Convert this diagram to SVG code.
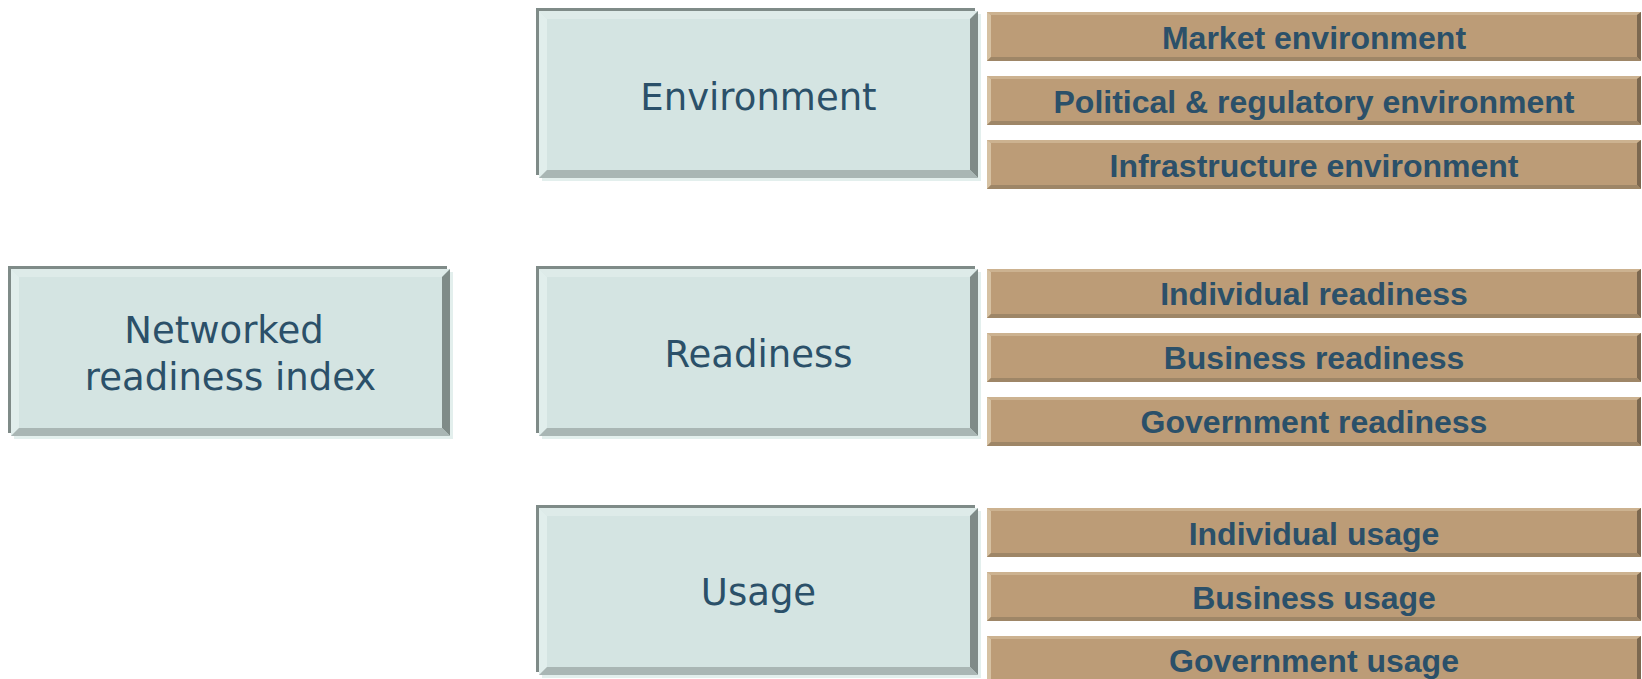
<svg xmlns="http://www.w3.org/2000/svg" xmlns:xlink="http://www.w3.org/1999/xlink" width="1642" height="679" viewBox="0 0 1642 679">
<style>
.box-main{fill:#d4e4e2}
.box-dark{fill:#7f8b88}
.box-shadow{fill:#e3efed}
.box-top{fill:#deebe9}
.box-left{fill:#e1eeec}
.box-right{fill:#7f8b88}
.box-bottom{fill:#a9b6b4}
.bar-main{fill:#bc9c77}
.bar-top{fill:#ccb290}
.bar-left{fill:#d6c1a2}
.bar-right{fill:#7c6850}
.bar-bottom{fill:#9e8667}
.box-text{font-family:"DejaVu Sans",Verdana,sans-serif;font-size:37px;fill:#2b5069;text-anchor:middle}
.bar-text{font-family:"Liberation Sans",Arial,sans-serif;font-weight:bold;font-size:32px;fill:#2b5069;text-anchor:middle}
</style>
<defs>
<g id="box">
<rect class="box-shadow" x="3" y="3" width="439" height="167"/>
<rect class="box-dark" x="-3" y="-3" width="439" height="167"/>
<rect class="box-main" x="0" y="0" width="439" height="167"/>
<polygon class="box-top" points="0,0 439,0 431,8 8,8"/>
<polygon class="box-left" points="0,0 8,8 8,159 0,167"/>
<polygon class="box-right" points="439,0 439,167 431,159 431,8"/>
<polygon class="box-bottom" points="0,167 439,167 431,159 8,159"/>
</g>
<g id="bar">
<rect class="bar-main" x="0" y="0" width="654" height="49"/>
<polygon class="bar-top" points="0,0 654,0 650,3 4,3"/>
<polygon class="bar-left" points="0,0 4,3 4,45 0,49"/>
<polygon class="bar-right" points="654,0 654,49 650,45 650,3"/>
<polygon class="bar-bottom" points="0,49 654,49 650,45 4,45"/>
</g>
</defs>
<g id="connectors"/>
<g id="node-nri">
<use xlink:href="#box" href="#box" x="11" y="269"/>
<text class="box-text" x="224" y="343">Networked</text>
<text class="box-text" x="230.5" y="390">readiness index</text>
</g>
<g id="node-environment">
<use xlink:href="#box" href="#box" x="539" y="11"/>
<text class="box-text" x="758.5" y="110">Environment</text>
</g>
<g id="node-readiness">
<use xlink:href="#box" href="#box" x="539" y="269"/>
<text class="box-text" x="758.5" y="367">Readiness</text>
</g>
<g id="node-usage">
<use xlink:href="#box" href="#box" x="539" y="508"/>
<text class="box-text" x="758.5" y="605">Usage</text>
</g>
<g id="node-market-environment">
<use xlink:href="#bar" href="#bar" x="987" y="12"/>
<text class="bar-text" x="1314" y="49">Market environment</text>
</g>
<g id="node-political-environment">
<use xlink:href="#bar" href="#bar" x="987" y="76"/>
<text class="bar-text" x="1314" y="113">Political &amp; regulatory environment</text>
</g>
<g id="node-infrastructure-environment">
<use xlink:href="#bar" href="#bar" x="987" y="140"/>
<text class="bar-text" x="1314" y="177">Infrastructure environment</text>
</g>
<g id="node-individual-readiness">
<use xlink:href="#bar" href="#bar" x="987" y="269"/>
<text class="bar-text" x="1314" y="305">Individual readiness</text>
</g>
<g id="node-business-readiness">
<use xlink:href="#bar" href="#bar" x="987" y="333"/>
<text class="bar-text" x="1314" y="369">Business readiness</text>
</g>
<g id="node-government-readiness">
<use xlink:href="#bar" href="#bar" x="987" y="397"/>
<text class="bar-text" x="1314" y="433">Government readiness</text>
</g>
<g id="node-individual-usage">
<use xlink:href="#bar" href="#bar" x="987" y="508"/>
<text class="bar-text" x="1314" y="545">Individual usage</text>
</g>
<g id="node-business-usage">
<use xlink:href="#bar" href="#bar" x="987" y="572"/>
<text class="bar-text" x="1314" y="609">Business usage</text>
</g>
<g id="node-government-usage">
<use xlink:href="#bar" href="#bar" x="987" y="636"/>
<text class="bar-text" x="1314" y="672">Government usage</text>
</g>
</svg>
